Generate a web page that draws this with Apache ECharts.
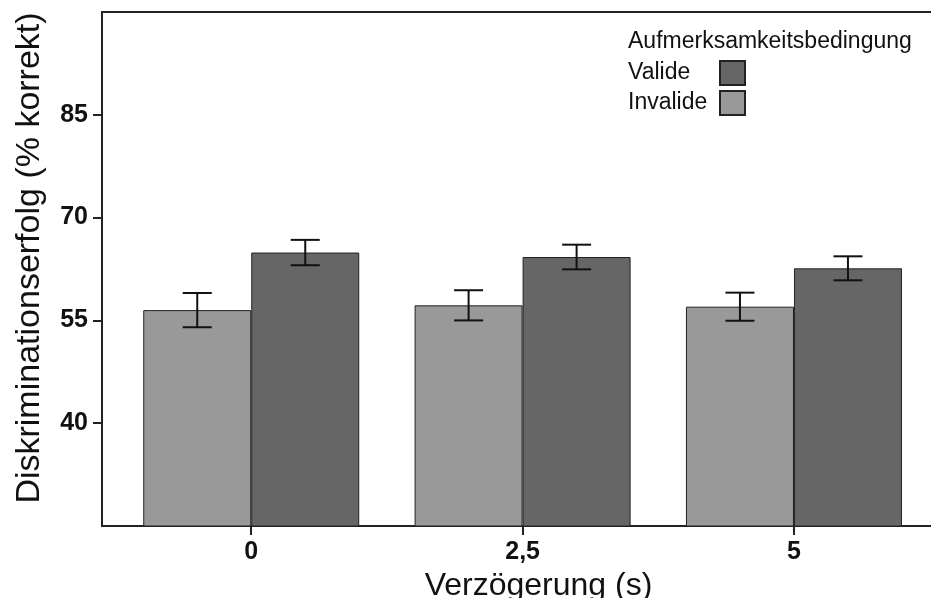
<!DOCTYPE html>
<html>
<head>
<meta charset="utf-8">
<script src="https://cdn.jsdelivr.net/npm/echarts@6/dist/echarts.min.js"></script>
<style>
html,body{margin:0;padding:0;background:#fff;}
#c{width:931px;height:598px;}
</style>
</head>
<body>
<div id="c"></div>
<script>
// ---- data ----
const xLabels = ['0', '2,5', '5'];
const xPositions = [0, 1, 2];
const invalideMean = [56.5, 57.2, 57.0];
const invalideErr = [2.5, 2.2, 2.05];
const valideMean = [64.9, 64.25, 62.6];
const valideErr = [1.85, 1.8, 1.75];
const yTicks = [40, 55, 70, 85];
const legendTitle = 'Aufmerksamkeitsbedingung';
const yTitle = 'Diskriminationserfolg (% korrekt)';
const xTitle = 'Verzögerung (s)';

// ---- layout / style ----
const FONT = '"Liberation Sans", Arial, Helvetica, sans-serif';
const BAR_W = 108;
const CAP_HALF = 14.5;

function pairs(vals) { return xPositions.map((x, i) => [x, vals[i]]); }
function errData(mean, err) { return xPositions.map((x, i) => [x, mean[i] - err[i], mean[i] + err[i]]); }

function errRenderer(offset) {
  return function (params, api) {
    const x = api.value(0);
    const lo = api.coord([x, api.value(1)]);
    const hi = api.coord([x, api.value(2)]);
    const cx = lo[0] + offset;
    const st = { stroke: '#111', lineWidth: 2 };
    return {
      type: 'group',
      children: [
        { type: 'line', shape: { x1: cx, y1: lo[1], x2: cx, y2: hi[1] }, style: st },
        { type: 'line', shape: { x1: cx - CAP_HALF, y1: lo[1], x2: cx + CAP_HALF, y2: lo[1] }, style: st },
        { type: 'line', shape: { x1: cx - CAP_HALF, y1: hi[1], x2: cx + CAP_HALF, y2: hi[1] }, style: st }
      ]
    };
  };
}

const chart = echarts.init(document.getElementById('c'), null, { renderer: 'canvas' });
chart.setOption({
  animation: false,
  backgroundColor: '#fff',
  textStyle: { fontFamily: FONT },
  title: {
    text: legendTitle,
    left: 628,
    top: 30,
    padding: 0,
    textStyle: { fontFamily: FONT, fontSize: 23, fontWeight: 'normal', color: '#111' }
  },
  legend: {
    data: ['Valide', 'Invalide'],
    orient: 'vertical',
    left: 628,
    top: 60,
    padding: 0,
    align: 'right',
    icon: 'rect',
    itemWidth: 25,
    itemHeight: 24,
    itemGap: 4,
    formatter: name => '{a|' + name + '}',
    textStyle: {
      fontFamily: FONT, fontSize: 23, color: '#111',
      rich: { a: { fontFamily: FONT, fontSize: 23, color: '#111', width: 87, align: 'left' } }
    }
  },
  grid: { left: 102, right: 0, top: 12, bottom: 72, containLabel: false, outerBoundsMode: 'none' },
  xAxis: [
    {
      type: 'value',
      position: 'bottom',
      min: -0.55,
      max: 2.505,
      axisLine: { show: true, onZero: false, lineStyle: { color: '#222', width: 2 } },
      axisTick: { show: true, customValues: xPositions, length: 9, lineStyle: { color: '#222', width: 2 } },
      axisLabel: {
        customValues: xPositions,
        formatter: v => xLabels[xPositions.indexOf(v)],
        margin: 14,
        fontFamily: FONT, fontSize: 25, fontWeight: 'bold', color: '#111'
      },
      splitLine: { show: false },
      name: xTitle,
      nameLocation: 'middle',
      nameGap: 40,
      nameTextStyle: { fontFamily: FONT, fontSize: 32, color: '#111', padding: [0, 0, 0, 44] }
    },
    {
      type: 'value',
      position: 'top',
      min: -0.55,
      max: 2.505,
      axisLine: { show: true, onZero: false, lineStyle: { color: '#222', width: 2 } },
      axisTick: { show: false },
      axisLabel: { show: false },
      splitLine: { show: false }
    }
  ],
  yAxis: {
    type: 'value',
    min: 25,
    max: 100,
    interval: 15,
    axisLine: { show: true, onZero: false, lineStyle: { color: '#222', width: 2 } },
    axisTick: { show: true, customValues: yTicks, length: 9, lineStyle: { color: '#222', width: 2 } },
    axisLabel: {
      customValues: yTicks,
      margin: 14,
      fontFamily: FONT, fontSize: 25, fontWeight: 'bold', color: '#111'
    },
    splitLine: { show: false },
    name: yTitle,
    nameLocation: 'middle',
    nameGap: 55,
    nameTextStyle: { fontFamily: FONT, fontSize: 34, color: '#111', padding: [0, 0, 0, 22] }
  },
  series: [
    {
      name: 'Invalide',
      type: 'bar',
      xAxisIndex: 0,
      data: pairs(invalideMean),
      barWidth: BAR_W,
      barGap: '0%',
      itemStyle: { color: '#999999', borderColor: '#222', borderWidth: 1 },
      z: 2
    },
    {
      name: 'Valide',
      type: 'bar',
      xAxisIndex: 0,
      data: pairs(valideMean),
      barWidth: BAR_W,
      barGap: '0%',
      itemStyle: { color: '#666666', borderColor: '#222', borderWidth: 1 },
      z: 2
    },
    {
      name: 'errInvalide',
      type: 'custom',
      xAxisIndex: 0,
      data: errData(invalideMean, invalideErr),
      renderItem: errRenderer(-BAR_W / 2),
      z: 5
    },
    {
      name: 'errValide',
      type: 'custom',
      xAxisIndex: 0,
      data: errData(valideMean, valideErr),
      renderItem: errRenderer(BAR_W / 2),
      z: 5
    }
  ]
});
</script>
</body>
</html>
